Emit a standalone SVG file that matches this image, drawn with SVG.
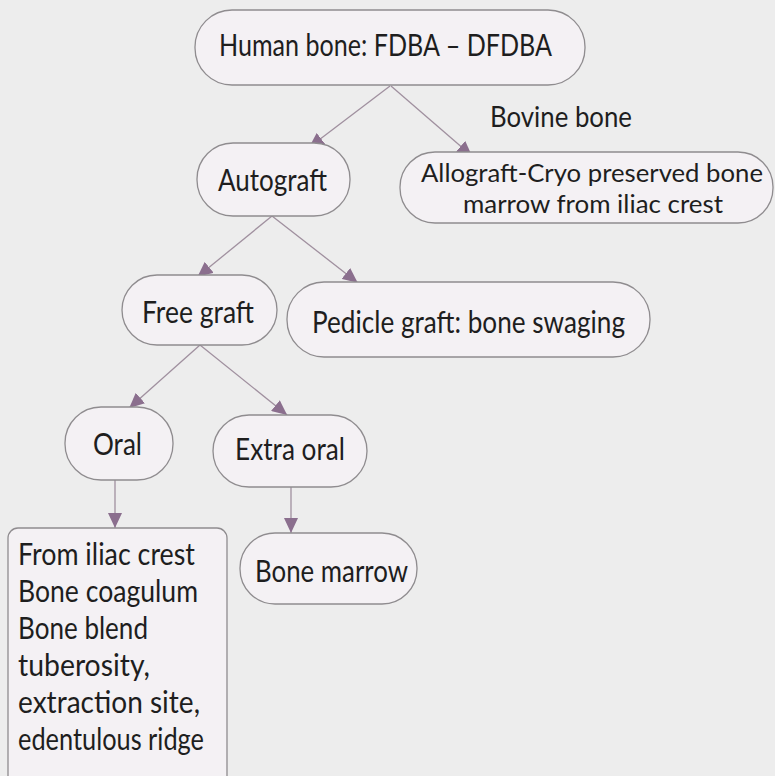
<svg xmlns="http://www.w3.org/2000/svg" width="775" height="776" viewBox="0 0 775 776">
<defs>
<marker id="ah" viewBox="0 0 15 14" refX="15" refY="7" markerWidth="15" markerHeight="14" markerUnits="userSpaceOnUse" orient="auto">
<path d="M0,0 L15,7 L0,14 Z" fill="#8b6f8e"/>
</marker>
<style>
.node{fill:#f4f1f4;stroke:#8f8c8f;stroke-width:1.3}
.t{font-family:Lato,"Open Sans","Liberation Sans",sans-serif;font-size:31px;fill:#1e1e1e}
.s{font-size:29px}
.a{font-size:25.5px}
.b{font-size:30px}
.c{fill:none;stroke:#a0909f;stroke-width:1.3;marker-end:url(#ah)}
</style>
</defs>
<rect x="0" y="0" width="775" height="776" fill="#ededed"/>
<g id="connectors">
<line class="c" x1="390" y1="86" x2="309" y2="147.6"/>
<line class="c" x1="391" y1="86" x2="472" y2="156"/>
<line class="c" x1="272" y1="216" x2="197.5" y2="276.8"/>
<line class="c" x1="272" y1="216" x2="357.7" y2="282.7"/>
<line class="c" x1="200" y1="345" x2="129.2" y2="408.1"/>
<line class="c" x1="200" y1="345" x2="287.1" y2="415"/>
<line class="c" x1="115" y1="480" x2="115" y2="528"/>
<line class="c" x1="291" y1="487" x2="291" y2="533"/>
</g>
<g id="n-human">
<rect class="node" x="195" y="10" width="390" height="75" rx="37" ry="37"/>
<text class="t" x="219" y="56" textLength="333" lengthAdjust="spacingAndGlyphs">Human bone: FDBA – DFDBA</text>
</g>
<g id="l-bovine">
<text class="t s" x="490" y="127" textLength="142" lengthAdjust="spacingAndGlyphs">Bovine bone</text>
</g>
<g id="n-autograft">
<rect class="node" x="197" y="143" width="153" height="73" rx="36" ry="36"/>
<text class="t" x="218" y="191" textLength="109" lengthAdjust="spacingAndGlyphs">Autograft</text>
</g>
<g id="n-allograft">
<rect class="node" x="400" y="152" width="373" height="71" rx="35" ry="35"/>
<text class="t a" x="421" y="182" textLength="342" lengthAdjust="spacingAndGlyphs">Allograft-Cryo preserved bone</text>
<text class="t a" x="463" y="213" textLength="260" lengthAdjust="spacingAndGlyphs">marrow from iliac crest</text>
</g>
<g id="n-free">
<rect class="node" x="122" y="275" width="155" height="70" rx="35" ry="35"/>
<text class="t" x="142" y="323" textLength="112" lengthAdjust="spacingAndGlyphs">Free graft</text>
</g>
<g id="n-pedicle">
<rect class="node" x="287" y="282" width="363" height="75" rx="37" ry="37"/>
<text class="t" x="312" y="333" textLength="313" lengthAdjust="spacingAndGlyphs">Pedicle graft: bone swaging</text>
</g>
<g id="n-oral">
<rect class="node" x="65" y="407" width="108" height="73" rx="36" ry="36"/>
<text class="t" x="93" y="455" textLength="49" lengthAdjust="spacingAndGlyphs">Oral</text>
</g>
<g id="n-extra">
<rect class="node" x="213" y="415" width="154" height="72" rx="36" ry="36"/>
<text class="t" x="235" y="460" textLength="110" lengthAdjust="spacingAndGlyphs">Extra oral</text>
</g>
<g id="n-sources">
<rect class="node" x="8" y="528" width="219" height="260" rx="10" ry="10"/>
<text class="t b" x="18" y="565" textLength="177" lengthAdjust="spacingAndGlyphs">From iliac crest</text>
<text class="t b" x="18" y="602" textLength="180" lengthAdjust="spacingAndGlyphs">Bone coagulum</text>
<text class="t b" x="18" y="639" textLength="130" lengthAdjust="spacingAndGlyphs">Bone blend</text>
<text class="t b" x="18" y="676" textLength="132" lengthAdjust="spacingAndGlyphs">tuberosity,</text>
<text class="t b" x="18" y="713" textLength="182" lengthAdjust="spacingAndGlyphs">extraction site,</text>
<text class="t b" x="18" y="750" textLength="186" lengthAdjust="spacingAndGlyphs">edentulous ridge</text>
</g>
<g id="n-marrow">
<rect class="node" x="240" y="533" width="177" height="71" rx="35" ry="35"/>
<text class="t" x="255" y="582" textLength="153" lengthAdjust="spacingAndGlyphs">Bone marrow</text>
</g>
</svg>
